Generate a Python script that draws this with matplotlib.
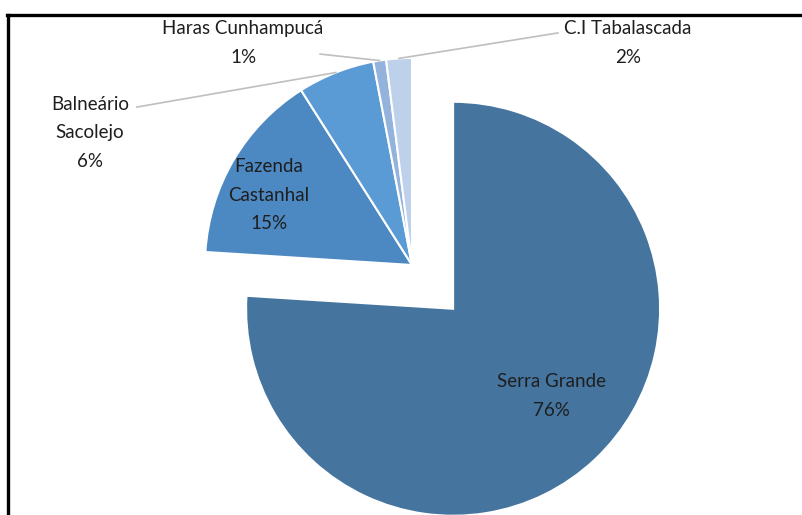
import numpy as np
import matplotlib.pyplot as plt
from matplotlib.lines import Line2D

plt.rcParams['font.family'] = ['Lato', 'DejaVu Sans']

# data
names = ['Serra Grande', 'Fazenda\nCastanhal', 'Balneário\nSacolejo', 'Haras Cunhampucá', 'C.I Tabalascada']
shares = [76, 15, 6, 1, 2]
colors = ['#45759F', '#4C88C1', '#5B9BD5', '#93B3DD', '#BDD1EB']
explode = [0.29, 0, 0, 0, 0]

fig = plt.figure(figsize=(8.03, 5.15), dpi=100)
ax = fig.add_axes([0, 0, 1, 1])
R = 207.0  # pie radius in pixels

wedges, _ = ax.pie(shares, colors=colors, explode=explode, startangle=90,
                   counterclock=False, radius=1.0, center=(0, 0),
                   wedgeprops=dict(edgecolor='white', linewidth=1.5),
                   frame=True)
ax.set_xlim(-412 / R, (803 - 412) / R)
ax.set_ylim((265 - 515) / R, 265 / R)
ax.set_aspect('auto')
ax.axis('off')

txt = dict(fontsize=13.5, color='#1e1e1e', ha='center', va='center', linespacing=1.8)

# inside labels
ax.text(0.676, -0.633, '%s\n%d%%' % (names[0], shares[0]), **txt)
ax.text(-0.69, 0.338, '%s\n%d%%' % (names[1], shares[1]), **txt)

# outside labels with leader lines
outside = {2: (-1.556, 0.638, -1.329, 0.763),
           3: (-0.816, 1.072, -0.444, 1.019),
           4: (1.043, 1.072, 0.705, 1.121)}
for i, (tx, ty, lx, ly) in outside.items():
    w = wedges[i]
    mid = np.deg2rad((w.theta1 + w.theta2) / 2)
    ax.plot([lx, np.cos(mid)], [ly, np.sin(mid)], color='#BFBFBF', lw=1.2)
    ax.text(tx, ty, '%s\n%d%%' % (names[i], shares[i]), **txt)

# frame
fig.add_artist(Line2D([7 / 803, 1], [1 - 15 / 515, 1 - 15 / 515], color='black', lw=2.4))
fig.add_artist(Line2D([8 / 803, 8 / 803], [0, 1 - 15 / 515], color='black', lw=2.4))

fig.savefig('out.png', dpi=100)
